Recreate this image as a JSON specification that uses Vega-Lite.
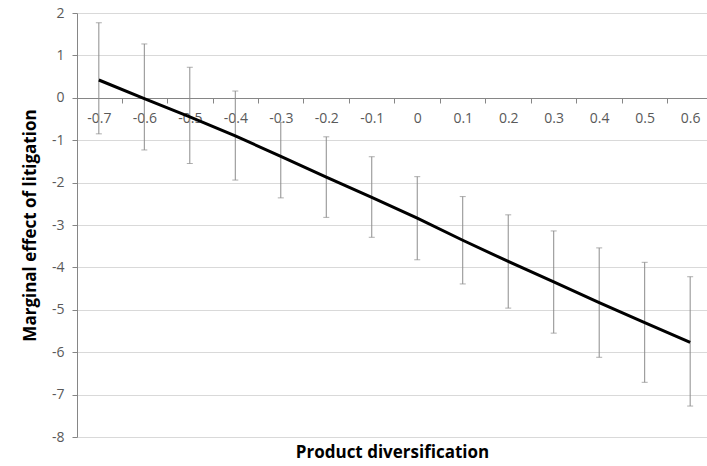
{
  "$schema": "https://vega.github.io/schema/vega-lite/v6.json",
  "width": 630,
  "height": 424,
  "autosize": "none",
  "padding": {"left": 77, "top": 13, "right": 0, "bottom": 29},
  "background": "white",
  "config": {"view": {"stroke": null}, "font": "Open Sans"},
  "data": {"values": [
    {"div": -0.7, "me": 0.42, "lo": -0.85, "hi": 1.77},
    {"div": -0.6, "me": -0.02, "lo": -1.23, "hi": 1.27},
    {"div": -0.5, "me": -0.45, "lo": -1.55, "hi": 0.72},
    {"div": -0.4, "me": -0.9, "lo": -1.94, "hi": 0.16},
    {"div": -0.3, "me": -1.38, "lo": -2.36, "hi": -0.58},
    {"div": -0.2, "me": -1.87, "lo": -2.82, "hi": -0.92},
    {"div": -0.1, "me": -2.35, "lo": -3.29, "hi": -1.39},
    {"div": 0, "me": -2.84, "lo": -3.82, "hi": -1.86},
    {"div": 0.1, "me": -3.36, "lo": -4.39, "hi": -2.33},
    {"div": 0.2, "me": -3.86, "lo": -4.96, "hi": -2.76},
    {"div": 0.3, "me": -4.34, "lo": -5.55, "hi": -3.14},
    {"div": 0.4, "me": -4.83, "lo": -6.12, "hi": -3.54},
    {"div": 0.5, "me": -5.3, "lo": -6.71, "hi": -3.88},
    {"div": 0.6, "me": -5.77, "lo": -7.27, "hi": -4.22}
  ]},
  "encoding": {
    "x": {
      "field": "div",
      "type": "quantitative",
      "scale": {"domain": [-0.748, 0.637], "nice": false, "zero": false},
      "axis": {
        "values": [-0.7, -0.6, -0.5, -0.4, -0.3, -0.2, -0.1, 0, 0.1, 0.2, 0.3, 0.4, 0.5, 0.6],
        "labelExpr": "replace(format(datum.value, '~g'), '\u2212', '-')",
        "offset": -339,
        "tickOffset": 22.7,
        "labelOffset": -22.7,
        "tickSize": 5,
        "grid": false,
        "domainColor": "#868686",
        "tickColor": "#868686",
        "labelColor": "#595959",
        "labelFontSize": 14,
        "labelPadding": 8,
        "title": "Product diversification",
        "titleFontSize": 17,
        "titleFontWeight": "bold",
        "titleColor": "#000000",
        "titleY": 354,
        "titleBaseline": "middle"
      }
    }
  },
  "layer": [
    {
      "mark": {"type": "rule", "color": "#8c8c8c", "strokeWidth": 1},
      "encoding": {
        "y": {
          "field": "lo",
          "type": "quantitative",
          "title": "Marginal effect of litigation",
          "scale": {"domain": [-8, 2], "nice": false, "zero": false},
          "axis": {
            "values": [-8, -7, -6, -5, -4, -3, -2, -1, 0, 1, 2],
            "labelExpr": "replace(format(datum.value, '~g'), '\u2212', '-')",
            "grid": true,
            "gridColor": "#d9d9d9",
            "domainColor": "#868686",
            "tickColor": "#868686",
            "tickSize": 5,
            "labelColor": "#595959",
            "labelFontSize": 14,
            "labelPadding": 8,
            "titleFontSize": 17,
            "titleFontWeight": "bold",
            "titleColor": "#000000",
            "titleX": -47,
            "titleBaseline": "middle"
          }
        },
        "y2": {"field": "hi"}
      }
    },
    {
      "mark": {"type": "tick", "orient": "horizontal", "size": 6, "thickness": 1, "color": "#8c8c8c"},
      "encoding": {
        "y": {"field": "lo", "type": "quantitative", "title": "Marginal effect of litigation"}
      }
    },
    {
      "mark": {"type": "tick", "orient": "horizontal", "size": 6, "thickness": 1, "color": "#8c8c8c"},
      "encoding": {
        "y": {"field": "hi", "type": "quantitative", "title": "Marginal effect of litigation"}
      }
    },
    {
      "mark": {"type": "line", "color": "#000000", "strokeWidth": 3},
      "encoding": {
        "y": {"field": "me", "type": "quantitative", "title": "Marginal effect of litigation"}
      }
    }
  ]
}
